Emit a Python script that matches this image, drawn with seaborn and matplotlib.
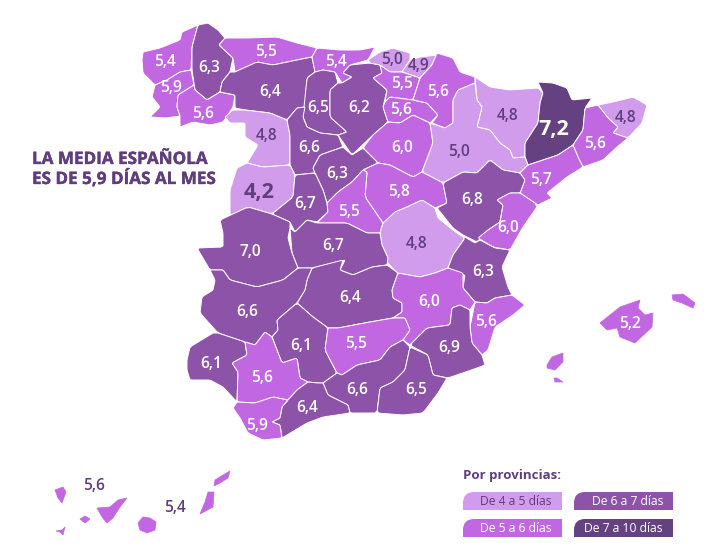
#!/usr/bin/env python3
"""Media de dias al mes por provincia, mapa de tramos"""

import numpy as np
import pandas as pd
import matplotlib.pyplot as plt
import matplotlib.patheffects as pe
from matplotlib.path import Path
from matplotlib.patches import PathPatch
import seaborn as sns

# Values per province, as printed on the map
provincias = ['Coruna', 'Lugo', 'Asturias', 'Pontevedra', 'Ourense', 'Leon', 'Cantabria', 'Palencia', 'Burgos',
              'Vizcaya', 'Guipuzcoa', 'Alava', 'Rioja', 'Navarra', 'Huesca', 'Lleida', 'Girona', 'Barcelona',
              'Zamora', 'Valladolid', 'Soria', 'Zaragoza', 'Segovia', 'Salamanca', 'Avila', 'Guadalajara',
              'Madrid', 'Tarragona', 'Teruel', 'Castellon', 'Cuenca', 'Toledo', 'Caceres', 'Valencia',
              'CiudadReal', 'Albacete', 'Alicante', 'Badajoz', 'Baleares', 'Cordoba', 'Jaen', 'Murcia',
              'Huelva', 'Sevilla', 'Granada', 'Almeria', 'Malaga', 'Cadiz', 'Tenerife', 'LasPalmas']
dias = [5.4, 6.3, 5.5, 5.9, 5.6, 6.4, 5.4, 6.5, 6.2,
        5.0, 4.9, 5.5, 5.6, 5.6, 4.8, 7.2, 4.8, 5.6,
        4.8, 6.6, 6.0, 5.0, 6.3, 4.2, 6.7, 5.8,
        5.5, 5.7, 6.8, 6.0, 4.8, 6.7, 7.0, 6.3,
        6.4, 6.0, 5.6, 6.6, 5.2, 6.1, 5.5, 6.9,
        6.1, 5.6, 6.6, 6.5, 6.4, 5.9, 5.6, 5.4]
tramos = ['De 4 a 5 días', 'De 5 a 6 días', 'De 6 a 7 días', 'De 7 a 10 días']
limites = [4, 5, 6, 7, 10]

# Province outlines
contornos = {
    'Coruna': [[(143,52),(160,48),(180,40),(182,32),(198,25),(192,47),(191,70),(180,72),(167,80),(155,85),(143,73),(142,60)]],
    'Pontevedra': [[(155,85),(167,80),(180,72),(191,70),(194,85),(178,95),(177,107),(180,116),(166,118),(150,117),(160,107),(152,97)]],
    'Ourense': [[(178,95),(194,85),(195,90),(207,100),(220,92),(235,95),(233,107),(223,122),(210,125),(193,122),(180,127),(180,116),(177,107)]],
    'Lugo': [[(198,25),(208,23),(218,30),(225,38),(219,45),(233,58),(230,72),(222,82),(220,92),(207,100),(195,90),(192,70),(192,47)]],
    'Asturias': [[(225,38),(247,38),(277,37),(297,43),(317,48),(312,57),(297,60),(273,65),(257,62),(235,72),(233,58),(219,45)]],
    'Leon': [[(235,72),(257,62),(273,65),(297,60),(312,57),(315,72),(307,78),(305,107),(297,108),(287,120),(270,113),(245,110),(235,108),(235,95),(220,92),(222,82),(230,72)]],
    'Cantabria': [[(317,48),(340,50),(360,50),(375,47),(368,60),(350,65),(343,73),(352,77),(342,83),(335,72),(323,70),(315,72),(312,57)]],
    'Palencia': [[(315,72),(323,70),(335,72),(338,83),(330,90),(330,117),(347,132),(338,135),(320,133),(307,127),(303,117),(307,78)]],
    'Burgos': [[(343,73),(350,65),(370,63),(380,65),(382,73),(373,78),(387,90),(383,107),(388,122),(373,135),(352,155),(338,135),(347,132),(330,117),(330,90),(338,83),(342,83),(352,77)]],
    'Zamora': [[(225,117),(233,110),(245,110),(270,113),(287,120),(290,135),(290,165),(263,167),(247,163),(258,145),(245,137),(245,123),(230,123)]],
    'Salamanca': [[(247,163),(263,167),(290,165),(295,175),(293,197),(272,214),(248,207),(230,216),(230,190),(237,168)]],
    'Valladolid': [[(287,120),(297,108),(305,107),(303,117),(307,127),(320,133),(338,135),(343,147),(320,155),(313,168),(315,173),(295,175),(290,165),(290,135)]],
    'Segovia': [[(343,147),(352,155),(363,148),(378,163),(363,170),(352,182),(338,192),(327,203),(323,190),(315,173),(313,168),(320,155)]],
    'Avila': [[(293,197),(295,175),(315,173),(323,190),(327,203),(328,212),(317,222),(307,220),(295,232),(290,222),(272,214)]],
    'Madrid': [[(327,203),(338,192),(352,182),(363,170),(367,172),(365,197),(383,223),(380,233),(367,233),(347,223),(317,223),(328,212)]],
    'Guadalajara': [[(363,170),(378,163),(390,165),(413,177),(422,172),(443,183),(447,203),(435,208),(422,200),(407,207),(395,212),(387,225),(383,223),(365,197),(367,172)]],
    'Soria': [[(363,148),(373,135),(388,122),(400,123),(413,115),(430,123),(433,143),(422,172),(413,177),(390,165),(378,163)]],
    'Rioja': [[(385,102),(390,97),(413,100),(427,103),(438,115),(430,123),(413,115),(400,123),(388,122),(383,107)]],
    'Alava': [[(373,78),(382,73),(380,65),(390,72),(402,72),(420,78),(413,100),(390,97),(385,102),(387,90)]],
    'Vizcaya': [[(368,60),(380,52),(393,48),(410,53),(410,60),(402,72),(390,72),(380,65),(370,63)]],
    'Guipuzcoa': [[(410,60),(420,57),(437,55),(432,65),(420,78),(402,72)]],
    'Navarra': [[(437,53),(453,58),(460,72),(475,77),(475,83),(458,90),(453,100),(453,123),(445,128),(432,123),(438,115),(427,103),(413,100),(420,78),(432,65)]],
    'Zaragoza': [[(475,83),(477,100),(482,107),(477,127),(490,130),(500,143),(510,150),(513,158),(525,157),(528,165),(520,173),(503,170),(490,160),(477,173),(463,172),(443,183),(422,172),(433,143),(430,123),(445,128),(453,123),(453,100),(458,90)]],
    'Huesca': [[(475,77),(490,87),(510,90),(538,88),(543,93),(540,103),(538,123),(525,143),(525,157),(513,158),(510,150),(500,143),(490,130),(477,127),(482,107),(477,100)]],
    'Lleida': [[(538,82),(553,83),(567,88),(572,100),(592,98),(585,108),(583,130),(573,145),(558,155),(537,162),(528,165),(525,157),(525,143),(538,123),(540,103),(543,93)]],
    'Girona': [[(598,105),(613,102),(633,97),(647,105),(642,123),(628,138),(613,133),(618,127),(608,118)]],
    'Barcelona': [[(585,108),(598,105),(608,118),(618,127),(613,133),(628,138),(617,147),(603,160),(583,167),(578,157),(573,145),(583,130)]],
    'Tarragona': [[(528,165),(537,162),(558,155),(573,145),(578,157),(583,167),(567,177),(547,193),(552,198),(538,205),(535,203),(520,193),(525,180),(520,173)]],
    'Teruel': [[(490,160),(503,170),(520,173),(525,180),(520,193),(510,193),(497,200),(503,205),(500,222),(488,230),(477,242),(463,235),(453,228),(437,208),(447,203),(443,183),(463,172),(477,173)]],
    'Castellon': [[(497,200),(510,193),(520,193),(535,203),(537,207),(523,227),(510,250),(493,247),(478,238),(488,230),(500,222),(503,205)]],
    'Cuenca': [[(380,233),(383,223),(395,212),(407,207),(422,200),(435,208),(438,218),(453,230),(465,238),(453,255),(448,268),(435,273),(420,277),(397,273),(387,262),(388,258),(382,245)]],
    'Valencia': [[(453,230),(475,243),(480,240),(495,248),(510,250),(502,267),(508,287),(512,295),(495,298),(487,303),(475,302),(463,288),(465,275),(448,268),(453,255),(465,238)]],
    'Alicante': [[(475,302),(487,303),(495,298),(512,295),(525,305),(513,315),(495,327),(488,350),(482,355),(472,343),(470,327)]],
    'Murcia': [[(410,345),(427,328),(450,325),(452,308),(460,305),(470,310),(470,327),(472,343),(482,355),(485,365),(477,368),(448,378),(433,375),(428,355)]],
    'Albacete': [[(392,290),(398,273),(420,277),(435,273),(448,268),(463,273),(463,288),(475,302),(470,310),(460,305),(452,308),(450,325),(427,328),(410,345),(403,340),(410,330),(405,318),(393,318),(402,312),(402,303),(393,298)]],
    'CiudadReal': [[(312,268),(343,260),(340,270),(353,275),(372,267),(387,265),(398,273),(392,290),(393,298),(402,303),(402,312),(393,318),(370,322),(338,328),(328,328),(313,317),(297,303),(305,290),(307,280)]],
    'Toledo': [[(290,228),(295,232),(307,220),(317,223),(347,223),(367,233),(380,233),(382,245),(388,258),(387,265),(372,267),(353,275),(340,270),(345,260),(337,262),(312,268),(298,268),(292,253)]],
    'Caceres': [[(220,220),(248,207),(272,214),(290,222),(290,228),(288,238),(292,253),(298,268),(283,280),(257,287),(230,280),(223,270),(210,270),(197,248),(223,247),(223,233)]],
    'Badajoz': [[(210,270),(223,270),(230,280),(257,287),(283,280),(298,268),(312,268),(307,280),(305,290),(297,303),(277,320),(278,330),(272,337),(265,332),(255,345),(245,342),(218,333),(200,313),(202,297),(213,290),(215,280)]],
    'Huelva': [[(187,360),(190,347),(213,333),(218,333),(245,342),(247,355),(232,363),(238,372),(237,402),(223,387),(210,380),(190,380),(187,370)]],
    'Sevilla': [[(232,363),(247,355),(245,342),(255,345),(265,332),(272,337),(282,363),(297,358),(300,378),(308,382),(297,390),(288,400),(273,397),(255,403),(237,402),(238,372)]],
    'Cadiz': [[(233,408),(237,402),(255,403),(273,397),(288,400),(282,407),(280,418),(272,422),(280,425),(282,438),(263,440),(248,433),(240,418)]],
    'Malaga': [[(272,422),(280,418),(282,407),(288,400),(297,390),(308,382),(318,383),(323,383),(328,395),(348,405),(350,413),(323,417),(307,423),(287,435),(282,438),(280,425)]],
    'Cordoba': [[(272,337),(278,330),(277,320),(297,303),(313,317),(328,328),(325,350),(337,373),(323,383),(318,383),(308,382),(300,378),(297,358),(282,363)]],
    'Jaen': [[(328,328),(338,328),(370,322),(393,318),(405,318),(410,330),(403,340),(390,347),(380,360),(357,365),(342,375),(337,373),(325,350)]],
    'Granada': [[(323,383),(337,373),(342,375),(357,365),(380,360),(390,347),(403,340),(410,347),(405,370),(393,382),(380,388),(377,413),(350,413),(348,405),(328,395)]],
    'Almeria': [[(410,347),(428,355),(433,375),(447,378),(438,393),(423,413),(403,415),(377,413),(380,388),(393,382),(405,370)]],
    'Baleares': [[(600,323),(620,307),(640,300),(638,308),(645,315),(653,313),(652,327),(635,343),(620,337),(617,328),(607,330)],
                 [(672,295),(683,294),(695,303),(693,308),(682,303),(673,300)],
                 [(547,365),(552,357),(563,353),(563,362),(555,370),(547,368)],
                 [(554,378),(557,378),(563,382),(555,382)]],
    'Tenerife': [[(55,490),(63,487),(66,492),(62,503),(58,498)],
                 [(80,519),(85,516),(90,519),(85,523)],
                 [(56,531),(62,530),(65,527),(63,535),(60,532)],
                 [(97,508),(110,507),(118,500),(127,498),(120,507),(113,518),(107,523),(102,517)]],
    'LasPalmas': [[(143,517),(150,518),(156,522),(155,530),(147,533),(140,530),(138,523)],
                  [(208,492),(214,492),(213,507),(200,514),(205,502)],
                  [(215,480),(223,475),(230,471),(228,478),(220,483),(214,486)]],
}
islas = ('Baleares', 'Tenerife', 'LasPalmas')

# Where each number sits
etiqueta_x = [165, 209, 266, 171, 203, 270, 336, 318, 359,
              392, 419, 402, 401, 438, 508, 554, 626, 595,
              267, 309, 402, 459, 337, 259, 305, 399,
              349, 541, 472, 508, 417, 333, 250, 483,
              350, 429, 486, 247, 630, 301, 356, 449,
              211, 262, 357, 416, 307, 257, 94, 175]
etiqueta_y = [60, 67, 50, 87, 113, 90, 60, 106, 107,
              58, 65, 83, 108, 90, 114, 128, 117, 143,
              135, 147, 146, 150, 172, 191, 203, 190,
              210, 178, 198, 227, 242, 244, 250, 270,
              297, 301, 320, 310, 322, 344, 343, 347,
              363, 376, 389, 389, 407, 424, 485, 507]

colores = sns.color_palette(['#D29CEC', '#C267E2', '#8C53A9', '#664181'])
oscuro = '#5F3D7E'
fuente = 'Open Sans'

sns.set_theme(style='white')
plt.rcParams['font.family'] = [fuente, 'DejaVu Sans']

df = pd.DataFrame({'provincia': provincias, 'dias': dias, 'x': etiqueta_x, 'y': etiqueta_y})
df['tramo'] = pd.cut(df['dias'], bins=limites, labels=False)


def suavizar(puntos, q=0.08):
    # light corner cutting, more than this opens holes where provinces meet
    p = np.array(puntos, dtype=float)
    sig = np.roll(p, -1, axis=0)
    a = p * (1 - q) + sig * q
    b = p * q + sig * (1 - q)
    return np.column_stack([a, b]).reshape(-1, 2)


fig = plt.figure(figsize=(7.14, 5.56), dpi=100)
ax = fig.add_axes([0, 0, 1, 1])
ax.set_xlim(0, 714)
ax.set_ylim(556, 0)
ax.axis('off')

# provinces
for _, row in df.iterrows():
    color = colores[row['tramo']]
    for contorno in contornos[row['provincia']]:
        if row['provincia'] in islas:
            xs, ys = zip(*contorno)
            ax.fill(xs, ys, facecolor=color, edgecolor=color, linewidth=0.5)
        else:
            liso = suavizar(contorno)
            ax.fill(liso[:, 0], liso[:, 1], facecolor=color, edgecolor='white', linewidth=0.7)

# numbers on top
for _, row in df.iterrows():
    grande = row['provincia'] in ('Lleida', 'Salamanca')
    claro = row['tramo'] >= 1 and row['provincia'] not in ('Tenerife', 'LasPalmas')
    ax.text(row['x'], row['y'] + 1.5, f"{row['dias']:.1f}".replace('.', ','), color='white' if claro else oscuro,
            fontsize=15.5 if grande else 11.2, fontweight='bold' if grande else 600,
            ha='center', va='center')

grueso = [pe.withStroke(linewidth=0.25, foreground=oscuro)]
ax.text(32, 164, 'LA MEDIA ESPAÑOLA', color=oscuro, fontsize=12.3, fontweight='bold', ha='left', va='baseline', path_effects=grueso)
ax.text(32, 184, 'ES DE 5,9 DÍAS AL MES', color=oscuro, fontsize=12.3, fontweight='bold', ha='left', va='baseline', path_effects=grueso)

# legend, boxes with the top left corner rounded
ax.text(463, 475.5, 'Por provincias:', color=oscuro, fontsize=9.5, fontweight='bold', ha='left', va='center')


def caja(x0, y0, ancho, alto, color, radio=11):
    verts = [(x0, y0 + alto), (x0, y0 + radio), (x0, y0), (x0 + radio, y0),
             (x0 + ancho, y0), (x0 + ancho, y0 + alto), (x0, y0 + alto)]
    codes = [Path.MOVETO, Path.LINETO, Path.CURVE3, Path.CURVE3, Path.LINETO, Path.LINETO, Path.CLOSEPOLY]
    ax.add_patch(PathPatch(Path(verts, codes), facecolor=color, edgecolor='none'))


cajas_x = [463, 463, 574, 574]
cajas_y = [492, 519, 492, 519]
for tramo, color, x0, y0 in zip(tramos, colores, cajas_x, cajas_y):
    caja(x0, y0, 99, 18, color)
    texto = oscuro if tramo == tramos[0] else 'white'
    ax.text(x0 + 89, y0 + 9.5, tramo, color=texto, fontsize=8.7, ha='right', va='center')

plt.savefig('out.png', dpi=100)
plt.close()
